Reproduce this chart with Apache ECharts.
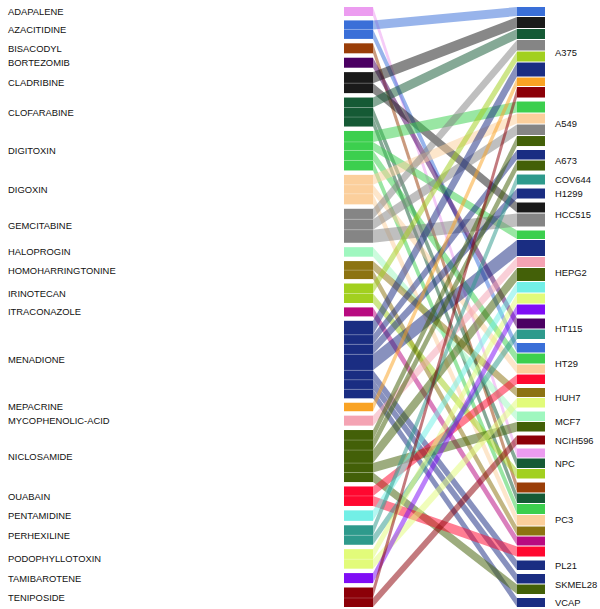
<!DOCTYPE html>
<html>
<head>
<meta charset="utf-8">
<script src="https://cdn.jsdelivr.net/npm/echarts@6/dist/echarts.min.js"></script>
<style>html,body{margin:0;padding:0;background:#fff;}#chart{width:600px;height:609px;}</style>
</head>
<body>
<div id="chart"></div>
<script>
// Left nodes (drugs) and their colours
const drugs = ["ADAPALENE","AZACITIDINE","BISACODYL","BORTEZOMIB","CLADRIBINE","CLOFARABINE","DIGITOXIN","DIGOXIN","GEMCITABINE","HALOPROGIN","HOMOHARRINGTONINE","IRINOTECAN","ITRACONAZOLE","MENADIONE","MEPACRINE","MYCOPHENOLIC-ACID","NICLOSAMIDE","OUABAIN","PENTAMIDINE","PERHEXILINE","PODOPHYLLOTOXIN","TAMIBAROTENE","TENIPOSIDE"];
const drugColors = ["#ec9cf0","#3a6fd8","#9a3e08","#4b0062","#1a1a1a","#155a35","#3ccf4e","#fbcf9c","#858585","#9ff7bf","#8c7312","#a2d01f","#b80a80","#1a2d82","#f9a324","#f4a3b3","#436008","#ff0830","#72efe6","#2e9a8c","#e2fb7a","#7f0df5","#8c0008"];
// Right nodes (cell lines)
const cells = ["A375","A549","A673","COV644","H1299","HCC515","HEPG2","HT115","HT29","HUH7","MCF7","NCIH596","NPC","PC3","PL21","SKMEL28","VCAP"];
// Links: [drug, cell, weight]
const links = [
  ["ADAPALENE","NPC",0.9],
  ["AZACITIDINE","A375",0.9],["AZACITIDINE","HT29",0.95],
  ["BISACODYL","PC3",1.0],
  ["BORTEZOMIB","HT115",1.0],
  ["CLADRIBINE","A375",1.1],["CLADRIBINE","HCC515",1.0],
  ["CLOFARABINE","A375",1.0],["CLOFARABINE","NPC",0.95],["CLOFARABINE","PC3",0.95],
  ["DIGITOXIN","A549",1.1],["DIGITOXIN","HEPG2",0.85],["DIGITOXIN","HT29",1.0],["DIGITOXIN","PC3",1.0],
  ["DIGOXIN","A549",1.0],["DIGOXIN","HT29",0.9],["DIGOXIN","PC3",1.05],
  ["GEMCITABINE","A375",1.05],["GEMCITABINE","A549",1.05],["GEMCITABINE","HCC515",1.3],
  ["HALOPROGIN","MCF7",0.95],
  ["HOMOHARRINGTONINE","HUH7",0.9],["HOMOHARRINGTONINE","PC3",0.9],
  ["IRINOTECAN","A375",1.0],["IRINOTECAN","NPC",0.95],
  ["ITRACONAZOLE","PC3",0.9],
  ["MENADIONE","A375",1.4],["MENADIONE","A673",0.95],["MENADIONE","H1299",1.0],["MENADIONE","HEPG2",1.6],["MENADIONE","PL21",0.95],["MENADIONE","SKMEL28",0.95],["MENADIONE","VCAP",0.9],
  ["MEPACRINE","A375",0.85],
  ["MYCOPHENOLIC-ACID","HEPG2",1.0],
  ["NICLOSAMIDE","A549",1.0],["NICLOSAMIDE","A673",1.0],["NICLOSAMIDE","HEPG2",1.3],["NICLOSAMIDE","MCF7",0.95],["NICLOSAMIDE","SKMEL28",0.95],
  ["OUABAIN","HT29",0.95],["OUABAIN","PC3",1.0],
  ["PENTAMIDINE","HEPG2",1.05],
  ["PERHEXILINE","COV644",1.0],["PERHEXILINE","HT115",0.95],
  ["PODOPHYLLOTOXIN","HEPG2",1.0],["PODOPHYLLOTOXIN","HUH7",0.95],
  ["TAMIBAROTENE","HEPG2",1.0],
  ["TENIPOSIDE","A375",1.05],["TENIPOSIDE","NCIH596",0.9]
];

// ---- layout (in weight units) ----
const gapL = 0.44, sepR = 0.1;
const L = links.map(l => ({d: drugs.indexOf(l[0]), c: cells.indexOf(l[1]), v: l[2]}));
const total = L.reduce((s, l) => s + l.v, 0);
const leftGroups = [];
let y = 0;
drugs.forEach((name, di) => {
  const ls = L.filter(l => l.d === di).sort((a, b) => a.c - b.c);
  const start = y;
  ls.forEach((l, k) => { l.l0 = y; l.l1 = y + l.v; l.lFirst = k === 0; y += l.v; });
  leftGroups.push({name, di, y0: start, y1: y});
  y += gapL;
});
const TL = y - gapL;
const nSepR = L.length - cells.length;
const gapR = (TL - total - nSepR * sepR) / (cells.length - 1);
const rightGroups = [];
y = 0;
cells.forEach((name, ci) => {
  const ls = L.filter(l => l.c === ci).sort((a, b) => a.d - b.d);
  const start = y;
  ls.forEach((l, k) => { l.r0 = y; l.r1 = y + l.v; y += l.v + (k < ls.length - 1 ? sepR : 0); });
  rightGroups.push({name, y0: start, y1: y});
  y += gapR;
});

const XL0 = 344, XL1 = 373, XR0 = 517, XR1 = 545;
const font = 'Liberation Sans, Arial, Helvetica, sans-serif';

const chart = echarts.init(document.getElementById('chart'), null, {renderer: 'svg'});
chart.setOption({
  animation: false,
  grid: {left: 0, right: 0, top: 7, bottom: 2},
  xAxis: {type: 'value', min: 0, max: 600, show: false},
  yAxis: {type: 'value', min: 0, max: TL, inverse: true, show: false},
  series: [
    { // links
      type: 'custom',
      data: L.map((l, i) => [i]),
      renderItem: (params, api) => {
        const l = L[api.value(0)];
        const a = api.coord([XL1, l.l0]), b = api.coord([XR0, l.r0]);
        const c = api.coord([XR0, l.r1]), d = api.coord([XL1, l.l1]);
        return {type: 'polygon', shape: {points: [a, b, c, d]},
          style: {fill: drugColors[l.d], opacity: 0.52}};
      }
    },
    { // left segments
      type: 'custom',
      data: L.map((l, i) => [i]),
      renderItem: (params, api) => {
        const l = L[api.value(0)];
        const p0 = api.coord([XL0, l.l0]), p1 = api.coord([XL1, l.l1]);
        const children = [{type: 'rect', shape: {x: p0[0], y: p0[1], width: p1[0] - p0[0], height: p1[1] - p0[1]},
          style: {fill: drugColors[l.d]}}];
        if (!l.lFirst) children.push({type: 'line', shape: {x1: p0[0], y1: p0[1], x2: p1[0], y2: p0[1]},
          style: {stroke: 'rgba(255,255,255,0.22)', lineWidth: 1}});
        return {type: 'group', children};
      }
    },
    { // right segments
      type: 'custom',
      data: L.map((l, i) => [i]),
      renderItem: (params, api) => {
        const l = L[api.value(0)];
        const p0 = api.coord([XR0, l.r0]), p1 = api.coord([XR1, l.r1]);
        return {type: 'rect', shape: {x: p0[0], y: p0[1], width: p1[0] - p0[0], height: p1[1] - p0[1]},
          style: {fill: drugColors[l.d]}};
      }
    },
    { // left labels
      type: 'custom',
      data: leftGroups.map((g, i) => [i]),
      renderItem: (params, api) => {
        const g = leftGroups[api.value(0)];
        const p = api.coord([8, (g.y0 + g.y1) / 2]);
        return {type: 'text', x: p[0], y: p[1], style: {text: g.name, fill: '#111', font: '9.4px ' + font, textAlign: 'left', textVerticalAlign: 'middle'}};
      }
    },
    { // right labels
      type: 'custom',
      data: rightGroups.map((g, i) => [i]),
      renderItem: (params, api) => {
        const g = rightGroups[api.value(0)];
        const p = api.coord([555, (g.y0 + g.y1) / 2]);
        return {type: 'text', x: p[0], y: p[1], style: {text: g.name, fill: '#111', font: '9.4px ' + font, textAlign: 'left', textVerticalAlign: 'middle'}};
      }
    }
  ]
});
</script>
</body>
</html>
